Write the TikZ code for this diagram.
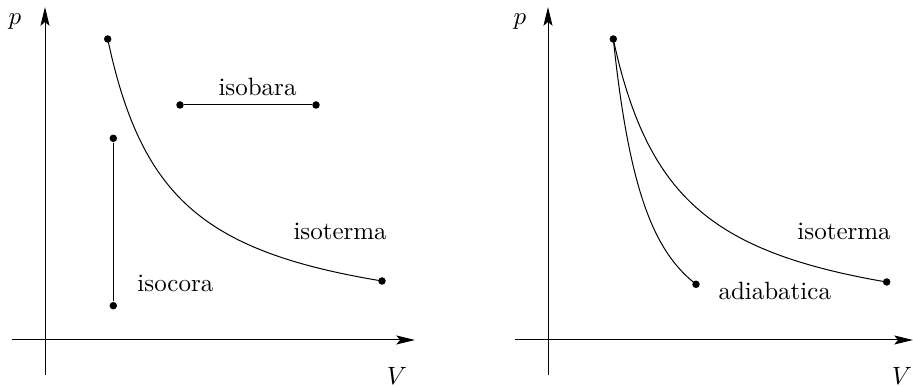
\documentclass[tikz,border=0pt]{standalone}
\usepackage{tikz}
\usetikzlibrary{arrows.meta, positioning, calc}

\begin{document}
\begin{tikzpicture}[x=4pt, y=4pt, >={Stealth[length=7.5pt, width=3.6pt, inset=1.5pt]},
    dot/.style={circle, fill, inner sep=0pt, minimum size=3pt},
    lbl/.style={anchor=base west, inner sep=0pt}]
    \useasboundingbox (0,0) rectangle (91.3,38.7);
    % left diagram
    \coordinate (yA0) at (4.5,1.2);
    \coordinate (yA1) at (4.5,38.0);
    \coordinate (xA0) at (1.2,4.7);
    \coordinate (xA1) at (41.5,4.7);
    \draw[->] (yA0) -- (yA1);
    \draw[->] (xA0) -- (xA1);
    \node (pA) at (1.5,36.5) {$p$};
    \node (VA) at (39.7,1.1) {$V$};
    \draw plot[domain=6.27:33.7, samples=60, smooth] ({4.5+\x},{4.7+0.37+186.4/\x});
    \node[dot] (tA0) at (10.77,34.8) {};
    \node[dot] (tA1) at (38.2,10.6) {};
    \node[dot] (bA0) at (18.0,28.2) {};
    \node[dot] (bA1) at (31.6,28.2) {};
    \draw (bA0) -- (bA1);
    \node[dot] (cA0) at (11.33,24.87) {};
    \node[dot] (cA1) at (11.33,8.13) {};
    \draw (cA0) -- (cA1);
    \node[lbl] (isobara) at (21.8,29.1) {isobara};
    \node[lbl] (isotermaA) at (29.3,14.7) {isoterma};
    \node[lbl] (isocora) at (13.7,9.5) {isocora};
    % right diagram
    \coordinate (yB0) at (54.8,1.2);
    \coordinate (yB1) at (54.8,38.0);
    \coordinate (xB0) at (51.5,4.7);
    \coordinate (xB1) at (91.3,4.7);
    \draw[->] (yB0) -- (yB1);
    \draw[->] (xB0) -- (xB1);
    \node (pB) at (52.0,36.5) {$p$};
    \node (VB) at (90.2,1.1) {$V$};
    \draw plot[domain=6.53:33.87, samples=60, smooth] ({54.8+\x},{4.7+196.3/\x});
    \draw plot[domain=6.53:14.8, samples=40, smooth] ({54.8+\x},{4.7+30.1*(6.53/\x)^2.06});
    \node[dot] (tB0) at (61.33,34.8) {};
    \node[dot] (tB1) at (88.67,10.5) {};
    \node[dot] (aB1) at (69.6,10.27) {};
    \node[lbl] (isotermaB) at (79.7,14.7) {isoterma};
    \node[lbl] (adiabatica) at (71.8,8.7) {adiabatica};
\end{tikzpicture}
\end{document}
